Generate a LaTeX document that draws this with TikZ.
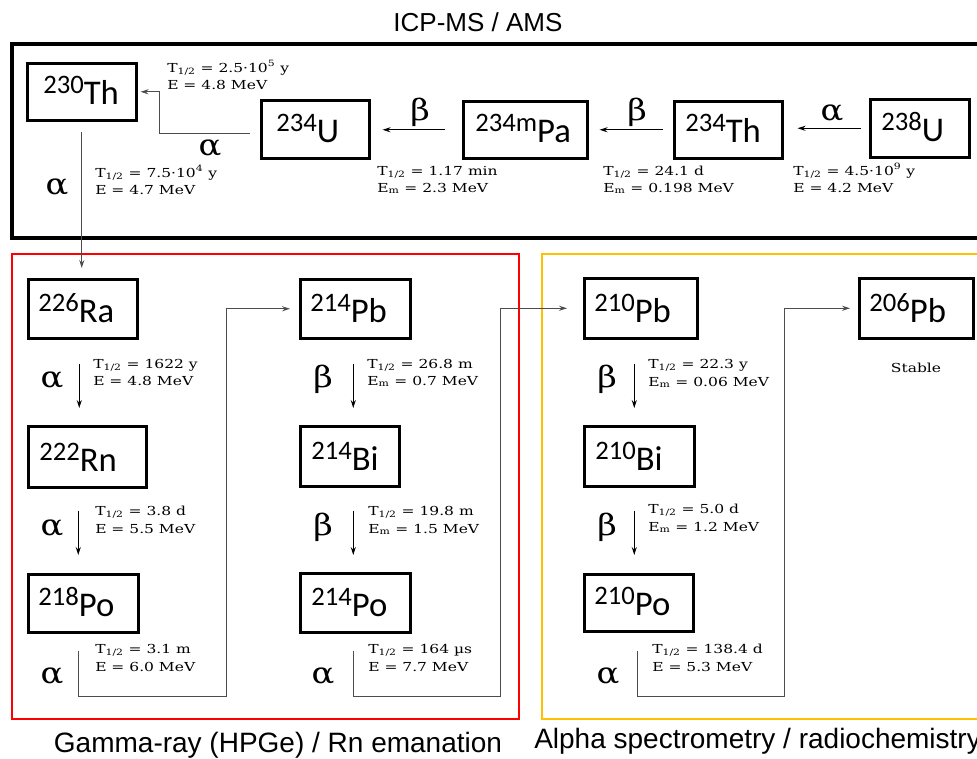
\documentclass[tikz,border=0pt]{standalone}
\usepackage{fontspec}
\setmainfont{DejaVu Serif}
\newfontfamily\carl{Carlito}
\newfontfamily\labfont[FakeStretch=1.25]{DejaVu Serif}
\newfontfamily\arialf{Liberation Sans}
\newfontfamily\greekf[FakeStretch=1.15]{DejaVu Serif}
\usetikzlibrary{arrows.meta,calc}

\newcommand\nucl[2]{\raisebox{8pt}{\fontsize{20}{20}\selectfont #1}#2}
% name, x1, y1, x2, y2, left pad, mass, symbol
\newcommand\nuclide[8]{%
  \pgfmathsetmacro\NucW{(#4-#2)*0.75}%
  \pgfmathsetmacro\NucTH{(#5-#3-16)*0.75}%
  \pgfmathsetmacro\NucP{#6*0.75}%
  \node[nucbox, anchor=north west, text width=\NucW pt, text height=\NucTH pt, text depth=12pt] (#1) at (#2,#3) {\hspace*{\NucP pt}\nucl{#7}{#8}};%
}
% name, x, y1, y2, line1, line2
\newcommand\decay[6]{%
  \node[lbl] (#1a) at (#2,#3) {#5};%
  \node[lbl] (#1b) at (#2,#4) {#6};%
}
\newcommand\Th{T\textsubscript{1/2}}
\newcommand\Em{E\textsubscript{m}}

\begin{document}
\begin{tikzpicture}[x=0.75pt,y=-0.75pt,
  nucbox/.style={draw, line width=1.9pt, inner sep=0pt, align=left, font=\carl\fontsize{26}{26}\selectfont},
  lbl/.style={anchor=base west, inner sep=0pt, font=\labfont\fontsize{9.3}{11}\selectfont},
  gk/.style={anchor=base, inner sep=0pt, font=\greekf\fontsize{22}{22}\selectfont},
  ttl/.style={inner sep=0pt, font=\arialf\fontsize{21}{21}\selectfont},
  varr/.style={line width=0.8pt, -{Stealth[length=6pt,width=3.8pt]}},
  conn/.style={draw=black!70, line width=0.75pt, -{Stealth[length=6pt,width=3.8pt]}}
]
\path[use as bounding box] (0,0) rectangle (977,758);
\clip (0,0) rectangle (977,758);

% frames
\draw[line width=2.3pt] (12,44) rectangle (995,238);
\draw[line width=1.9pt, draw={rgb,255:red,255;green,0;blue,0}] (12,254) rectangle (519,719);
\draw[line width=1.9pt, draw={rgb,255:red,255;green,192;blue,0}] (542,254) rectangle (995,719);

% titles
\node[ttl, anchor=base, font=\arialf\fontsize{19.5}{19.5}\selectfont] (title) at (478,31) {ICP-MS / AMS};
\node[ttl, anchor=base] (gtitle) at (278,752) {Gamma-ray (HPGe) / Rn emanation};
\node[ttl, anchor=base west] (atitle) at (534,748) {Alpha spectrometry / radiochemistry};

% nuclides
\nuclide{Th230}{26}{62}{135}{119}{16}{230}{Th}
\nuclide{U234}{260}{99}{368}{157}{15}{234}{U}
\nuclide{Pa234}{462}{100}{586}{157}{12}{234m}{Pa}
\nuclide{Th234}{673}{100}{781}{157}{11}{234}{Th}
\nuclide{U238}{869}{98}{968}{156}{11}{238}{U}
\nuclide{Ra226}{27}{278}{136}{337}{10}{226}{Ra}
\nuclide{Rn222}{27}{425}{145}{486}{11}{222}{Rn}
\nuclide{Po218}{27}{573}{137}{631}{10}{218}{Po}
\nuclide{Pb214}{299}{278}{409}{337}{10}{214}{Pb}
\nuclide{Bi214}{299}{425}{398}{485}{11}{214}{Bi}
\nuclide{Po214}{299}{572}{409}{631}{11}{214}{Po}
\nuclide{Pb210}{583}{277}{696}{337}{10}{210}{Pb}
\nuclide{Bi210}{583}{425}{693}{485}{11}{210}{Bi}
\nuclide{Po210}{583}{573}{692}{630}{10}{210}{Po}
\nuclide{Pb206}{858}{277}{972}{337}{10}{206}{Pb}

% decay data
\decay{d1}{167}{72}{89}{\Th{} = 2.5·10\textsuperscript{5} y}{E = 4.8 MeV}
\decay{d2}{95}{177}{194}{\Th{} = 7.5·10\textsuperscript{4} y}{E = 4.7 MeV}
\decay{d3}{377}{175}{192}{\Th{} = 1.17 min}{\Em{} = 2.3 MeV}
\decay{d4}{603}{175}{192}{\Th{} = 24.1 d}{\Em{} = 0.198 MeV}
\decay{d5}{793}{175}{192}{\Th{} = 4.5·10\textsuperscript{9} y}{E = 4.2 MeV}
\decay{d6}{93}{368}{385}{\Th{} = 1622 y}{E = 4.8 MeV}
\decay{d7}{367}{368}{385}{\Th{} = 26.8 m}{\Em{} = 0.7 MeV}
\decay{d8}{95}{515}{533}{\Th{} = 3.8 d}{E = 5.5 MeV}
\decay{d9}{368}{515}{533}{\Th{} = 19.8 m}{\Em{} = 1.5 MeV}
\decay{d10}{95}{653}{671}{\Th{} = 3.1 m}{E = 6.0 MeV}
\decay{d11}{368}{653}{671}{\Th{} = 164 µs}{E = 7.7 MeV}
\decay{d12}{648}{368}{386}{\Th{} = 22.3 y}{\Em{} = 0.06 MeV}
\decay{d13}{648}{513}{531}{\Th{} = 5.0 d}{\Em{} = 1.2 MeV}
\decay{d14}{652}{653}{671}{\Th{} = 138.4 d}{E = 5.3 MeV}
\node[lbl, anchor=base] (stable) at (916,372) {Stable};

% decay modes
\node[gk] (g1) at (832,120) {α};
\node[gk] (g2) at (637,120) {β};
\node[gk] (g3) at (420,120) {β};
\node[gk] (g4) at (210,155) {α};
\node[gk] (g5) at (57,194) {α};
\node[gk] (g6) at (52,387) {α};
\node[gk] (g7) at (323,387) {β};
\node[gk] (g8) at (52,535) {α};
\node[gk] (g9) at (323,535) {β};
\node[gk] (g10) at (52,683) {α};
\node[gk] (g11) at (323,683) {α};
\node[gk] (g12) at (607,387) {β};
\node[gk] (g13) at (607,535) {β};
\node[gk] (g14) at (608,683) {α};

% top row arrows
\draw[varr, shorten <=6pt, shorten >=10.5pt] (U238.west) -- (U238.west -| Th234.east);
\draw[varr, shorten <=7.5pt, shorten >=8.25pt] (Th234.west) -- (Th234.west -| Pa234.east);
\draw[varr, shorten <=12.75pt, shorten >=9pt] (Pa234.west) -- (Pa234.west -| U234.east);
\draw[conn] ([shift={(-10,4)}]U234.west) -| ([shift={(22,0)}]Th230.east) -- ([shift={(3,0)}]Th230.east);
\draw[conn, shorten <=7.5pt, shorten >=7.5pt] (Th230.south) -- (Th230.south |- Ra226.north);

% vertical chains
\draw[varr, shorten <=18pt, shorten >=12.75pt] ([shift={(-3.5,0)}]Ra226.south) -- ([shift={(-3.5,0)}]Ra226.south |- Rn222.north);
\draw[varr, shorten <=16.5pt, shorten >=13.5pt] ([shift={(-9,0)}]Rn222.south) -- ([shift={(-9,0)}]Rn222.south |- Po218.north);
\draw[varr, shorten <=18pt, shorten >=12.75pt] ([shift={(-2,0)}]Pb214.south) -- ([shift={(-2,0)}]Pb214.south |- Bi214.north);
\draw[varr, shorten <=17.25pt, shorten >=12.75pt] ([shift={(3.5,0)}]Bi214.south) -- ([shift={(3.5,0)}]Bi214.south |- Po214.north);
\draw[varr, shorten <=18pt, shorten >=12.75pt] ([shift={(-6.5,0)}]Pb210.south) -- ([shift={(-6.5,0)}]Pb210.south |- Bi210.north);
\draw[varr, shorten <=17.25pt, shorten >=13.5pt] ([shift={(-5,0)}]Bi210.south) -- ([shift={(-5,0)}]Bi210.south |- Po210.north);

% chain jumps
\coordinate (k1) at (226,696);
\coordinate (k2) at (500,696);
\coordinate (k3) at (784,696);
\draw[conn] ([shift={(-5,17)}]Po218.south) |- (k1) |- ([shift={(-9,0)}]Pb214.west);
\draw[conn] ([shift={(-2,17)}]Po214.south) |- (k2) |- ([shift={(-16,0)}]Pb210.west);
\draw[conn] ([shift={(-1.5,18)}]Po210.south) |- (k3) |- ([shift={(-8,0)}]Pb206.west);
\end{tikzpicture}
\end{document}
